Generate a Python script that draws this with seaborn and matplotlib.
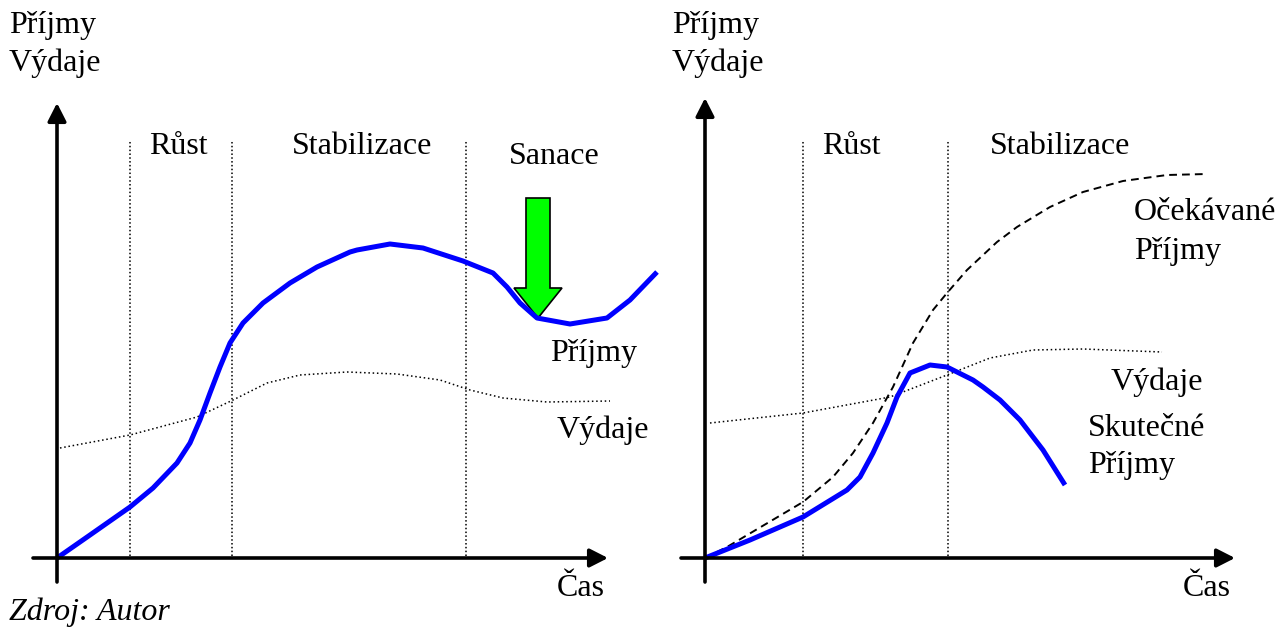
import matplotlib.pyplot as plt
import seaborn as sns

sns.set_theme(style="white")
plt.rcParams['font.family'] = ['Liberation Serif', 'DejaVu Serif']
plt.rcParams['text.color'] = 'black'
plt.rcParams['lines.solid_joinstyle'] = 'round'
plt.rcParams['lines.solid_capstyle'] = 'butt'

# ---- left panel (growth, stabilisation, rescue) ----
left_t = [0, 33, 73, 96, 120, 133, 143, 153, 163, 173, 186, 206, 233, 260, 293,
          300, 333, 366, 406, 436, 450, 463, 480, 513, 550, 573, 600]
left_income = [0, 23, 51, 70, 95, 115, 138, 165, 191, 215, 235, 255, 275, 291, 306,
               308, 314, 310, 297, 285, 271, 255, 240, 234, 240, 258, 286]
left_exp_t = [3, 73, 140, 176, 210, 243, 290, 340, 383, 413, 446, 490, 553]
left_exp = [110, 123, 141, 158, 175, 183, 186, 184, 178, 168, 160, 156, 157]
left_phases = [73, 175, 409]
left_phase_names = ['Růst', 'Stabilizace', 'Sanace']

# ---- right panel (expected vs. actual) ----
right_exp_inc_t = [0, 22, 98, 128, 148, 168, 188, 208, 228, 242, 262, 292, 312,
                   345, 378, 418, 462, 502]
right_exp_inc = [0, 11, 56, 81, 105, 135, 171, 215, 248, 265, 288, 316, 331,
                 351, 366, 377, 383, 384]
right_cost_t = [5, 98, 185, 242, 285, 328, 378, 457]
right_cost = [135, 145, 161, 183, 200, 208, 209, 206]
right_act_t = [0, 45, 98, 142, 155, 168, 182, 192, 205, 225, 242, 268, 278, 295,
               315, 338, 360]
right_act = [0, 18, 41, 68, 81, 105, 135, 161, 185, 193, 191, 178, 171, 158,
             138, 108, 73]
right_phases = [98, 243]
right_phase_names = ['Růst', 'Stabilizace']

W, H = 1277, 628
fig = plt.figure(figsize=(W / 100, H / 100), dpi=100)
BLUE = '#0000ff'
FS = 23


def make_axes(ox, oy):
    # full-figure axes, 1 data unit = 1 pixel, origin where the axes cross
    ax = fig.add_axes([0, 0, 1, 1])
    ax.set_xlim(-ox, W - ox)
    ax.set_ylim(-(H - oy), oy)
    ax.set_axis_off()
    ax.patch.set_alpha(0)
    return ax


def draw_axes(ax, xend, yend, label_x):
    style = '-|>,head_length=0.55,head_width=0.28'
    for start, end in [((-24, 0), (xend, 0)), ((0, -24), (0, yend))]:
        ax.annotate('', xy=end, xytext=start,
                    arrowprops=dict(arrowstyle=style, lw=2.6, color='black',
                                    mutation_scale=20, shrinkA=0, shrinkB=0))
    ax.text(label_x, 532, 'Příjmy', fontsize=FS, va='center', ha='left')
    ax.text(label_x, 495, 'Výdaje', fontsize=FS, va='center', ha='left')


def draw_phases(ax, xs, names, label_pos):
    ax.vlines(xs, 2, 418, colors='black', linestyles=(0, (1, 1.5)), lw=1.1)
    for (xp, yp), name in zip(label_pos, names):
        ax.text(xp, yp, name, fontsize=FS, ha='center', va='center')


# left
ax1 = make_axes(57, 558)
draw_axes(ax1, 551, 455, -48)
draw_phases(ax1, left_phases, left_phase_names, [(121, 411), (305, 411), (497, 402)])
sns.lineplot(x=left_exp_t, y=left_exp, ax=ax1, color='black', lw=1.1,
             linestyle=(0, (1, 1.8)), sort=False)
sns.lineplot(x=left_t, y=left_income, ax=ax1, color=BLUE, lw=3.6, sort=False)
ax1.arrow(481, 360, 0, -120, width=24, head_width=48, head_length=30,
          length_includes_head=True, fc='#00ff00', ec='black', lw=1.2, zorder=1)
ax1.text(537, 204, 'Příjmy', fontsize=FS, ha='center', va='center')
ax1.text(546, 128, 'Výdaje', fontsize=FS, ha='center', va='center')
ax1.text(524, -30, 'Čas', fontsize=FS, ha='center', va='center')
ax1.text(-48, -54, 'Zdroj: Autor', fontsize=FS, ha='left', va='center', style='italic')

# right
ax2 = make_axes(705, 558)
draw_axes(ax2, 530, 460, -33)
draw_phases(ax2, right_phases, right_phase_names, [(146, 411), (355, 411)])
sns.lineplot(x=right_cost_t, y=right_cost, ax=ax2, color='black', lw=1.1,
             linestyle=(0, (1, 1.8)), sort=False)
sns.lineplot(x=right_exp_inc_t, y=right_exp_inc, ax=ax2, color='black', lw=1.4,
             linestyle=(0, (4, 2.6)), sort=False)
sns.lineplot(x=right_act_t, y=right_act, ax=ax2, color=BLUE, lw=3.6, sort=False)
ax2.text(429, 346, 'Očekávané', fontsize=FS, ha='left', va='center')
ax2.text(429, 307, 'Příjmy', fontsize=FS, ha='left', va='center')
ax2.text(452, 176, 'Výdaje', fontsize=FS, ha='center', va='center')
ax2.text(383, 130, 'Skutečné', fontsize=FS, ha='left', va='center')
ax2.text(383, 92, 'Příjmy', fontsize=FS, ha='left', va='center')
ax2.text(502, -30, 'Čas', fontsize=FS, ha='center', va='center')

fig.savefig('out.png', dpi=100, facecolor='white')
